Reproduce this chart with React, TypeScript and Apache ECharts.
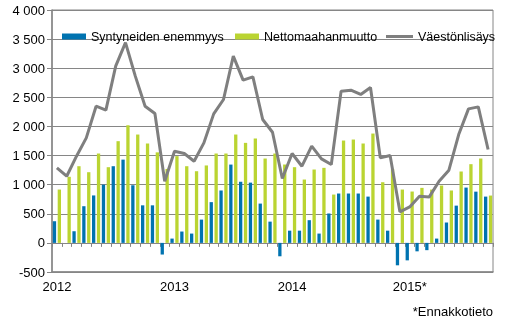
import React, { useEffect, useRef } from "react";
import * as echarts from "echarts";

const months: string[] = [];
for (let y = 2012; y <= 2015; y++) {
  for (let m = 1; m <= 12; m++) {
    if (y === 2015 && m > 9) break;
    months.push(`${y}M${String(m).padStart(2, "0")}`);
  }
}
const yearLabels: Record<string, string> = { "2012": "2012", "2013": "2013", "2014": "2014", "2015": "2015*" };

const natural = [
  372, 0, 200, 630, 815, 1000, 1317, 1430, 990, 645, 645, -200,
  74, 195, 160, 400, 700, 900, 1345, 1050, 1035, 675, 365, -230,
  210, 210, 390, 160, 505, 848, 848, 848, 795, 400, 210, -385,
  -300, -145, -125, 74, 350, 640, 950, 880, 795,
];
const migration = [
  916, 1135, 1317, 1214, 1535, 1300, 1747, 2020, 1861, 1707, 1555, 1270,
  1490, 1317, 1231, 1330, 1535, 1535, 1861, 1718, 1793, 1449, 1535, 1346,
  1300, 1088, 1260, 1289, 830, 1758, 1775, 1707, 1878, 1042, 1271, 916,
  882, 945, 916, 985, 900, 1226, 1352, 1449, 813,
];
const growth = [
  1289, 1145, 1489, 1804, 2348, 2280, 3035, 3440, 2864, 2348, 2222, 1060,
  1575, 1535, 1403, 1718, 2216, 2463, 3207, 2795, 2852, 2119, 1901, 1105,
  1535, 1317, 1661, 1443, 1346, 2606, 2623, 2549, 2669, 1460, 1500, 533,
  618, 802, 790, 1060, 1248, 1861, 2302, 2336, 1604,
];

const FONT = "'Liberation Sans', Arial, sans-serif";
const GRAY = "#868686";

const legendBase = {
  top: 25,
  itemWidth: 24,
  itemHeight: 6,
  itemGap: 5,
  textStyle: { fontSize: 12.5, color: "#000", fontFamily: FONT },
};

export default function App() {
  const ref = useRef<HTMLDivElement>(null);
  useEffect(() => {
    if (!ref.current) return;
    const chart = echarts.init(ref.current, undefined, { renderer: "svg" });
    chart.setOption({
      animation: false,
      textStyle: { fontFamily: FONT },
      grid: {
        left: 52,
        right: 22,
        top: 10,
        bottom: 52,
        show: true,
        borderColor: GRAY,
        borderWidth: 1,
        backgroundColor: "transparent",
      },
      legend: [
        { ...legendBase, left: 57, data: [{ name: "Syntyneiden enemmyys", icon: "rect" }] },
        { ...legendBase, left: 230, data: [{ name: "Nettomaahanmuutto", icon: "rect" }] },
        {
          ...legendBase,
          left: 381,
          itemWidth: 27,
          data: [{ name: "Väestönlisäys", icon: "path://M0 0H27V3H0Z" }],
        },
      ],
      xAxis: [
        {
          type: "category",
          data: months,
          position: "bottom",
          axisLine: { onZero: false, lineStyle: { color: GRAY, width: 1.5 } },
          axisTick: { show: false },
          axisLabel: {
            interval: 11,
            margin: 8,
            fontSize: 13,
            color: "#000",
            formatter: (v: string) => yearLabels[v.slice(0, 4)] ?? "",
          },
        },
        {
          type: "category",
          data: months,
          position: "bottom",
          axisLine: { onZero: true, onZeroAxisIndex: 0, lineStyle: { color: GRAY, width: 1 } },
          axisTick: { show: true, interval: 0, length: 4, lineStyle: { color: GRAY } },
          axisLabel: { show: false },
        },
      ],
      yAxis: {
        type: "value",
        min: -500,
        max: 4000,
        interval: 500,
        axisLine: { show: true, lineStyle: { color: GRAY, width: 1.5 } },
        axisTick: { show: true, length: 5, lineStyle: { color: GRAY } },
        axisLabel: {
          fontSize: 13,
          color: "#000",
          margin: 7,
          formatter: (v: number) => {
            const s = Math.abs(v).toString();
            const f = s.length > 3 ? s.slice(0, s.length - 3) + " " + s.slice(-3) : s;
            return (v < 0 ? "-" : "") + f;
          },
        },
        splitLine: { show: true, lineStyle: { color: GRAY, width: 1 } },
      },
      series: [
        {
          name: "Syntyneiden enemmyys",
          type: "bar",
          data: natural,
          barWidth: 3.3,
          barGap: "48%",
          itemStyle: { color: "#0073b0" },
        },
        {
          name: "Nettomaahanmuutto",
          type: "bar",
          data: migration,
          barWidth: 3.3,
          barGap: "48%",
          itemStyle: { color: "#bad432" },
        },
        {
          name: "Väestönlisäys",
          type: "line",
          data: growth,
          symbol: "none",
          lineStyle: { color: "#7f7f7f", width: 3 },
          itemStyle: { color: "#7f7f7f" },
          z: 5,
        },
      ],
      graphic: [
        {
          type: "text",
          right: 22,
          top: 305,
          style: { text: "*Ennakkotieto", fontSize: 13, fontFamily: FONT, fill: "#000" },
        },
      ],
    });
    return () => chart.dispose();
  }, []);
  return (
    <div
      ref={ref}
      style={{ position: "fixed", left: 0, top: 0, width: 515, height: 324 }}
    />
  );
}
